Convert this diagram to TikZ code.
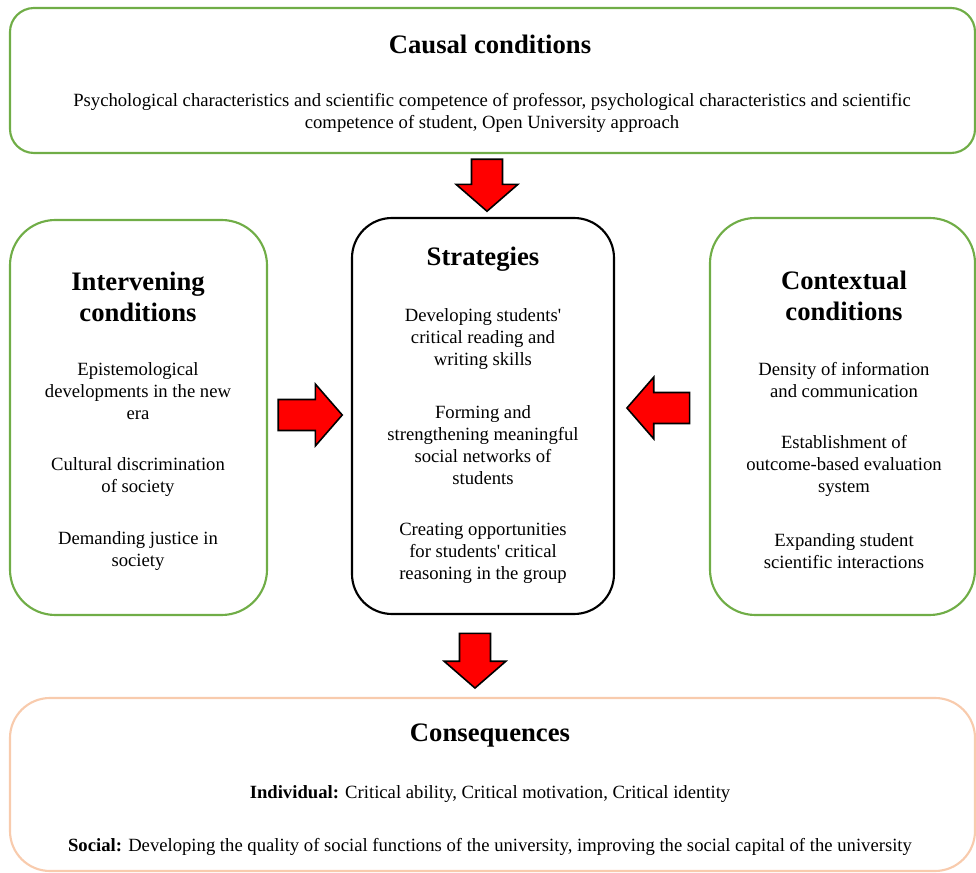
\documentclass[tikz,border=0pt]{standalone}
\usepackage{fontspec}
\setmainfont{Liberation Serif}
\usepackage{tikz}
\usetikzlibrary{shapes.arrows,fit}

\definecolor{boxgreen}{HTML}{70AD47}
\definecolor{boxpeach}{HTML}{F8CBAD}

\tikzset{
    greenbox/.style = {draw=boxgreen, line width=1.6pt, inner sep=0pt},
    bodytext/.style = {align=center, font=\fontsize{14}{16.5}\selectfont},
    headtext/.style = {align=center, font=\fontsize{20}{23.5}\selectfont\bfseries},
    redarrow/.style = {single arrow, draw=black, fill=red, line width=1.2pt, inner sep=11pt,
        single arrow head extend=11.5pt, single arrow tip angle=98}
}

\begin{document}
\begin{tikzpicture}[x=0.75pt, y=-0.75pt]
            \useasboundingbox (0,0) rectangle (976,873);
            % boxes
            \node[greenbox, rounded corners=18pt, fit={(10,8) (975,153)}] (causal) {};
            \node[greenbox, rounded corners=34pt, fit={(10,220) (267,615)}] (intervening) {};
            \node[draw=black, line width=1.6pt, inner sep=0pt, rounded corners=30pt, fit={(352,218) (614,614)}] (strategies) {};
            \node[greenbox, rounded corners=34pt, fit={(710,218) (975,615)}] (contextual) {};
            \node[draw=boxpeach, line width=1.6pt, inner sep=0pt, rounded corners=30pt, fit={(10,698) (975,871)}] (consequences) {};

            % block arrows
            \node[redarrow, shape border rotate=270, minimum height=39pt] (arrowtop) at (487,178.5) {};
            \node[redarrow, minimum height=48pt] (arrowleft) at (303.5,415) {};
            \node[redarrow, shape border rotate=180, minimum height=47pt] (arrowright) at (665,408) {};
            \node[redarrow, shape border rotate=270, minimum height=41pt] (arrowbottom) at (475,654) {};

            % causal conditions
            \node[headtext] (causaltitle) at (490,44) {Causal conditions};
            \node[bodytext] (causaltext) at (492,113) {Psychological characteristics and scientific competence of professor, psychological characteristics and scientific\\competence of student, Open University approach};

            % intervening conditions
            \node[headtext] (intertitle) at (138,297) {Intervening\\conditions};
            \node[bodytext] (inter1) at (138,391) {Epistemological\\developments in the new\\era};
            \node[bodytext] (inter2) at (138,477) {Cultural discrimination\\of society};
            \node[bodytext] (inter3) at (138,551.5) {Demanding justice in\\society};

            % strategies
            \node[headtext] (strattitle) at (483,259) {Strategies};
            \node[bodytext] (strat1) at (483,339) {Developing students\textquotesingle\\critical reading and\\writing skills};
            \node[bodytext] (strat2) at (483,445.5) {Forming and\\strengthening meaningful\\social networks of\\students};
            \node[bodytext] (strat3) at (483,553) {Creating opportunities\\for students\textquotesingle{} critical\\reasoning in the group};

            % contextual conditions
            \node[headtext] (conttitle) at (844,296) {Contextual\\conditions};
            \node[bodytext] (cont1) at (844,380) {Density of information\\and communication};
            \node[bodytext] (cont2) at (844,466) {Establishment of\\outcome-based evaluation\\system};
            \node[bodytext] (cont3) at (844,551.5) {Expanding student\\scientific interactions};

            % consequences
            \node[headtext] (constitle) at (490,736) {Consequences};
            \node[bodytext] (cons1) at (490,794) {\textbf{Individual:} Critical ability, Critical motivation, Critical identity};
            \node[bodytext] (cons2) at (490,847) {\textbf{Social:} Developing the quality of social functions of the university, improving the social capital of the university};
        \end{tikzpicture}
\end{document}
